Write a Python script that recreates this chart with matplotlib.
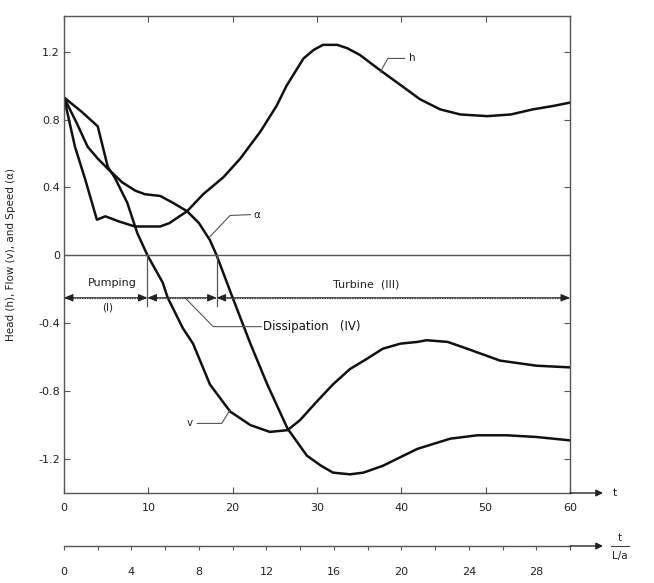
import matplotlib
matplotlib.use("Agg")
import matplotlib.pyplot as plt
from matplotlib.lines import Line2D

plt.rcParams['font.family'] = ['DejaVu Sans']

# ---- data ----
h_t = [0, 1.3, 2.5, 3.9, 4.9, 6.5, 8.4, 10, 11.4, 12.5, 14.6, 16.5, 18.9, 20.9, 23.3,
       25.2, 26.4, 28.4, 29.6, 30.7, 32.4, 33.6, 35.1, 37.5, 40, 42.2, 44.6, 47, 50.2, 53,
       55.6, 58, 60]
h = [0.93, 0.64, 0.45, 0.21, 0.23, 0.20, 0.17, 0.17, 0.17, 0.19, 0.26, 0.36, 0.46, 0.57, 0.73,
     0.88, 1.0, 1.16, 1.21, 1.24, 1.24, 1.22, 1.18, 1.09, 1.0, 0.92, 0.86, 0.83, 0.82, 0.83,
     0.86, 0.88, 0.90]

v_t = [0, 2, 4.0, 5.2, 6, 7.5, 8.7, 9.9, 11.7, 12.3, 14.1, 15.3, 17.3, 19.7, 22.1, 24.4,
       26.5, 28, 30, 31.9, 33.9, 35.9, 37.8, 39.9, 41.9, 43, 45.5, 47.8, 51.7, 56, 60]
v = [0.93, 0.85, 0.76, 0.52, 0.46, 0.31, 0.13, 0.0, -0.16, -0.25, -0.43, -0.52, -0.76, -0.92,
     -1.0, -1.04, -1.03, -0.97, -0.86, -0.76, -0.67, -0.61, -0.55, -0.52, -0.51, -0.50, -0.51,
     -0.55, -0.62, -0.65, -0.66]

alpha_t = [0, 1.5, 2.8, 4, 5.2, 6.9, 8.5, 9.6, 11.4, 12.9, 14.6, 16, 17.3, 18.1, 20, 22.1,
           24.1, 26.5, 28.8, 30.5, 31.9, 33.9, 35.5, 37.8, 41.9, 45.8, 49, 52.5, 56, 60]
alpha = [0.93, 0.78, 0.64, 0.57, 0.51, 0.43, 0.38, 0.36, 0.35, 0.31, 0.26, 0.19, 0.09, 0.0,
         -0.25, -0.52, -0.76, -1.02, -1.18, -1.24, -1.28, -1.29, -1.28, -1.24, -1.14, -1.08,
         -1.06, -1.06, -1.07, -1.09]

y_ticks = [1.2, 0.8, 0.4, 0, -0.4, -0.8, -1.2]
y_tick_labels = ["1.2", "0.8", "0.4", "0", "-0.4", "-0.8", "-1.2"]
x_ticks = [0, 10, 20, 30, 40, 50, 60]
x2_major = [0, 4, 8, 12, 16, 20, 24, 28]
x2_minor = [2, 6, 10, 14, 18, 22, 26, 30]

t_flow_zero = 9.9
t_speed_zero = 18.1

# ---- figure ----
W, H = 654, 583
fig = plt.figure(figsize=(W / 100, H / 100), dpi=100)
fig.patch.set_facecolor('white')

L, R, T, B = 64, 570, 16, 493
ax = fig.add_axes([L / W, 1 - B / H, (R - L) / W, (B - T) / H])
ax.set_xlim(0, 60)
ax.set_ylim(-1.40, 1.41)

lc = '#111111'
thin = '#555555'
for s in ax.spines.values():
    s.set_color(thin)
    s.set_linewidth(1.0)

for xs, ys in ((h_t, h), (v_t, v), (alpha_t, alpha)):
    ax.plot(xs, ys, color=lc, lw=1.8, solid_joinstyle='round', solid_capstyle='round')

ax.axhline(0, color=thin, lw=1.0)

ax.set_yticks(y_ticks)
ax.set_yticklabels(y_tick_labels)
ax.set_xticks(x_ticks)
ax.set_xticklabels([str(x) for x in x_ticks])
ax.tick_params(direction='in', length=4, width=0.8, color=thin, labelsize=8,
               top=True, right=True, labelcolor='#222222')
ax.tick_params(axis='x', pad=7)
ax.tick_params(axis='y', pad=3)

# region markers
yr = -0.25
ax.plot([0, 60], [yr, yr], color=thin, lw=0.9, ls=(0, (1.2, 0.8)))
for x0 in (t_flow_zero, t_speed_zero):
    ax.plot([x0, x0], [0, -0.30], color=thin, lw=0.9)
arrow_kw = dict(arrowstyle='<|-|>,head_length=0.6,head_width=0.25', color='#222222',
                lw=0.8, mutation_scale=9, shrinkA=0, shrinkB=0)
for a, b in [(0, t_flow_zero), (t_flow_zero, t_speed_zero), (t_speed_zero, 60)]:
    ax.annotate('', xy=(b, yr), xytext=(a, yr), arrowprops=arrow_kw, annotation_clip=False)

ax.text(5.7, -0.165, 'Pumping', fontsize=8, ha='center', va='center', color='#222222')
ax.text(5.2, -0.31, '(I)', fontsize=7.5, ha='center', va='center', color='#222222')
ax.text(35.8, -0.17, 'Turbine  (III)', fontsize=8, ha='center', va='center', color='#222222')
ax.plot([14.35, 17.7, 23.4], [-0.25, -0.42, -0.42], color=thin, lw=0.8)
ax.text(23.6, -0.42, 'Dissipation   (IV)', fontsize=8.5, ha='left', va='center',
        color='#111111')

# curve labels
ax.plot([17.3, 19.7, 22.1], [0.11, 0.235, 0.24], color=thin, lw=0.8)
ax.text(22.9, 0.24, 'α', fontsize=7.5, ha='center', va='center', color='#222222')
ax.plot([37.5, 38.4, 40.4], [1.08, 1.16, 1.16], color=thin, lw=0.8)
ax.text(41.3, 1.165, 'h', fontsize=7.5, ha='center', va='center', color='#222222')
ax.plot([15.8, 18.7, 19.7], [-0.99, -0.99, -0.91], color=thin, lw=0.8)
ax.text(14.9, -0.99, 'v', fontsize=7.5, ha='center', va='center', color='#222222')

# x-axis arrow
head_kw = dict(arrowstyle='-|>', color='#222222', lw=1.0, mutation_scale=10,
               shrinkA=0, shrinkB=0)
ax.annotate('', xy=((603 - L) / (R - L), 0), xytext=(1, 0), xycoords='axes fraction',
            textcoords='axes fraction', arrowprops=head_kw, annotation_clip=False)
fig.text(615 / W, 1 - 493 / H, 't', fontsize=8, ha='center', va='center', color='#222222')

ax.set_ylabel('Head (h), Flow (v), and Speed (α)', fontsize=7.5, color='#222222')
ax.yaxis.set_label_coords(-(L - 16) / (R - L), 0.5)

# secondary axis (t / (L/a))
y2 = 546
ax2 = fig.add_axes([L / W, 1 - y2 / H, (R - L) / W, 0.0001])
ax2.set_xlim(0, 30)
ax2.set_ylim(0, 1)
for k in ('top', 'left', 'right'):
    ax2.spines[k].set_visible(False)
ax2.spines['bottom'].set_color(thin)
ax2.spines['bottom'].set_linewidth(1.0)
ax2.set_yticks([])
ax2.set_xticks(x2_major)
ax2.set_xticklabels([str(x) for x in x2_major])
ax2.set_xticks(x2_minor, minor=True)
ax2.tick_params(axis='x', which='both', direction='out', length=3, width=0.8, color=thin,
                labelsize=8, labelcolor='#222222', pad=12)
ax2.patch.set_visible(False)
fig.patches.append(matplotlib.patches.FancyArrowPatch(
    (R / W, 1 - y2 / H), (603 / W, 1 - y2 / H), transform=fig.transFigure,
    arrowstyle='-|>', color='#222222', lw=1.0, mutation_scale=10, shrinkA=0, shrinkB=0))
fig.text(620 / W, 1 - 538 / H, 't', fontsize=7.5, ha='center', va='center', color='#222222')
fig.lines.append(Line2D([611 / W, 629 / W], [1 - 546 / H, 1 - 546 / H],
                        transform=fig.transFigure, color='#444444', lw=0.8))
fig.text(620 / W, 1 - 556 / H, 'L/a', fontsize=7.5, ha='center', va='center', color='#222222')

fig.savefig('out.png', dpi=100, facecolor='white')
